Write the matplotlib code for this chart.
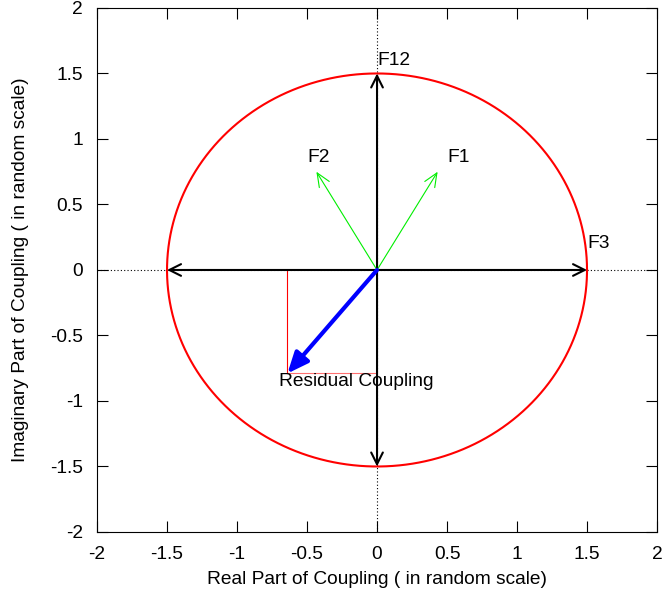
import numpy as np
import matplotlib
matplotlib.use("Agg")
from matplotlib import pyplot as plt

plt.rcParams['font.family'] = ['Liberation Sans', 'DejaVu Sans']
plt.rcParams['font.size'] = 13.8

# coupling vectors (real, imaginary)
radius = 1.5
f1 = (0.433, 0.75)
f2 = (-0.433, 0.75)
f3 = [(1.5, 0.0), (-1.5, 0.0)]
f12 = [(0.0, 1.5), (0.0, -1.5)]
residual = (-0.64, -0.79)

labels = ["F12", "F1", "F2", "F3", "Residual Coupling"]
label_pos = [(0.0, 1.6), (0.5, 0.86), (-0.5, 0.86), (1.5, 0.2), (-0.7, -0.85)]

ticks = [-2, -1.5, -1, -0.5, 0, 0.5, 1, 1.5, 2]
tick_labels = ["-2", "-1.5", "-1", "-0.5", "0", "0.5", "1", "1.5", "2"]

fig = plt.figure(figsize=(6.65, 5.95), dpi=100)
ax = fig.add_axes([0.1459, 0.1059, 0.8421, 0.8807])
ax.set_xlim(-2, 2)
ax.set_ylim(-2, 2)

# zero axes
ax.axhline(0, color='black', lw=0.8, ls=(0, (1, 2)))
ax.axvline(0, color='black', lw=0.8, ls=(0, (1, 2)))

# circle of constant magnitude
t = np.linspace(0, 2 * np.pi, 400)
ax.plot(radius * np.cos(t), radius * np.sin(t), color='red', lw=1.5)

# projections of the residual
ax.plot([residual[0], residual[0]], [0, residual[1]], color='red', lw=0.8)
ax.plot([residual[0], 0], [residual[1], residual[1]], color='#ff7070', lw=0.8)


def arrow(end, color, lw, style='->', scale=14):
    ax.annotate('', xy=end, xytext=(0, 0),
                arrowprops=dict(arrowstyle=style, color=color, lw=lw,
                                shrinkA=0, shrinkB=0, mutation_scale=scale))


for p in f3 + f12:
    arrow(p, 'black', 1.5, '->,head_length=0.6,head_width=0.3')
arrow(f1, '#00ee00', 0.8, '->,head_length=0.7,head_width=0.3')
arrow(f2, '#00ee00', 0.8, '->,head_length=0.7,head_width=0.3')
arrow(residual, 'blue', 3.0, '-|>,head_length=0.7,head_width=0.3', scale=18)

for text, (x, y) in zip(labels, label_pos):
    ax.text(x, y, text, ha='left', va='center')

ax.set_xticks(ticks)
ax.set_xticklabels(tick_labels)
ax.set_yticks(ticks)
ax.set_yticklabels(tick_labels)
ax.tick_params(direction='in', top=True, right=True, length=8, width=0.8, pad=10)
for s in ax.spines.values():
    s.set_linewidth(0.8)

ax.set_xlabel("Real Part of Coupling ( in random scale)", labelpad=6)
ax.set_ylabel("Imaginary Part of Coupling ( in random scale)", labelpad=15)

plt.savefig("out.png", dpi=100)
